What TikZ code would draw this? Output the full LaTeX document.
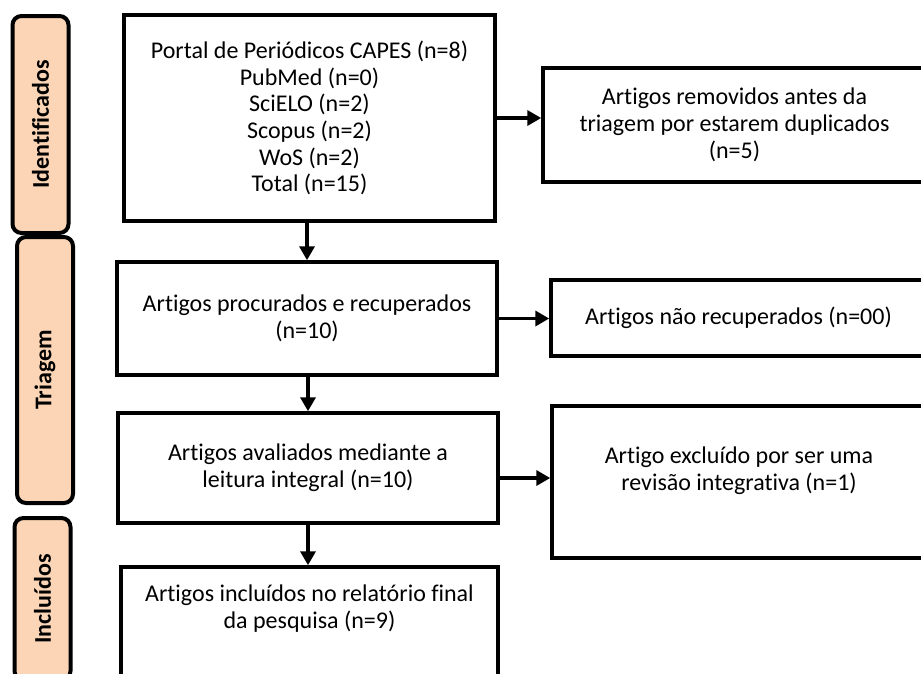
\documentclass[tikz,border=0pt]{standalone}
\usepackage{fontspec}
\setmainfont{Carlito}[Ligatures=NoCommon]
\usepackage{xcolor}
\usepackage{tikz}
\usetikzlibrary{positioning,arrows.meta}

\definecolor{phasefill}{RGB}{251,213,181}
\newcommand{\flowfont}{\fontsize{24}{26.7}\selectfont}

\begin{document}
\begin{tikzpicture}[
  x=1pt, y=-1pt,
  phase/.style={draw, rounded corners=9pt, fill=phasefill, line width=4pt,
                rotate=90, font=\flowfont\bfseries, minimum height=56pt, inner sep=0pt},
  flowbox/.style={draw, line width=3.5pt, align=center, font=\flowfont, inner sep=4pt},
  arr/.style={line width=3.5pt, -{Triangle[length=14pt,width=15pt]}},
]
  \useasboundingbox (0,0) rectangle (921,673);
  \clip (0,0) rectangle (921,673);

  % --- Phase labels (left column) ---
  \node[phase, minimum width=217pt] (sideid)  at (40.5, 124.5) {Identificados};
  \node[phase, minimum width=266pt] (sidetri) at (45, 370) {Triagem};
  \node[phase, minimum width=162pt] (sideinc) at (42.5, 599) {Incluídos};

  % --- Main column ---
  \node[flowbox, minimum width=371pt, minimum height=206pt] (idbox) at (309.5, 118)
    {Portal de Periódicos CAPES (n=8)\\PubMed (n=0)\\SciELO (n=2)\\Scopus (n=2)\\WoS (n=2)\\Total (n=15)};
  \node[flowbox, minimum width=380pt, minimum height=113pt] (triabox) at (307, 318.5)
    {Artigos procurados e recuperados\\(n=10)};
  \node[flowbox, minimum width=380pt, minimum height=110pt] (avalbox) at (308, 468)
    {Artigos avaliados mediante a\\leitura integral (n=10)};
  \node[flowbox, minimum width=377pt, minimum height=133pt] (inclbox) at (309.5, 633.5)
    {Artigos incluídos no relatório final\\da pesquisa (n=9)\\~\\~};

  % --- Right column (cut at the page edge) ---
  \node[flowbox, minimum width=383pt, minimum height=114pt] (dupbox) at (734.5, 125)
    {Artigos removidos antes da\\triagem por estarem duplicados\\(n=5)};
  \node[flowbox, minimum width=375pt, minimum height=76pt] (naobox) at (738.5, 318)
    {Artigos não recuperados (n=00)};
  \node[flowbox, minimum width=374pt, minimum height=152pt] (exclbox) at (739, 482)
    {Artigo excluído por ser uma\\revisão integrativa (n=1)\\~};

  % --- Arrows down ---
  \draw[arr] (triabox.north |- idbox.south) -- (triabox.north);
  \draw[arr] (avalbox.north |- triabox.south) -- (avalbox.north);
  \draw[arr] (avalbox.south) -- (avalbox.south |- inclbox.north);

  % --- Arrows right ---
  \draw[arr] (idbox.east) -- (idbox.east -| dupbox.west);
  \draw[arr] (triabox.east) -- (triabox.east -| naobox.west);
  \draw[arr] ([yshift=-10pt]avalbox.east) -- ([yshift=-10pt]avalbox.east -| exclbox.west);

\end{tikzpicture}
\end{document}
